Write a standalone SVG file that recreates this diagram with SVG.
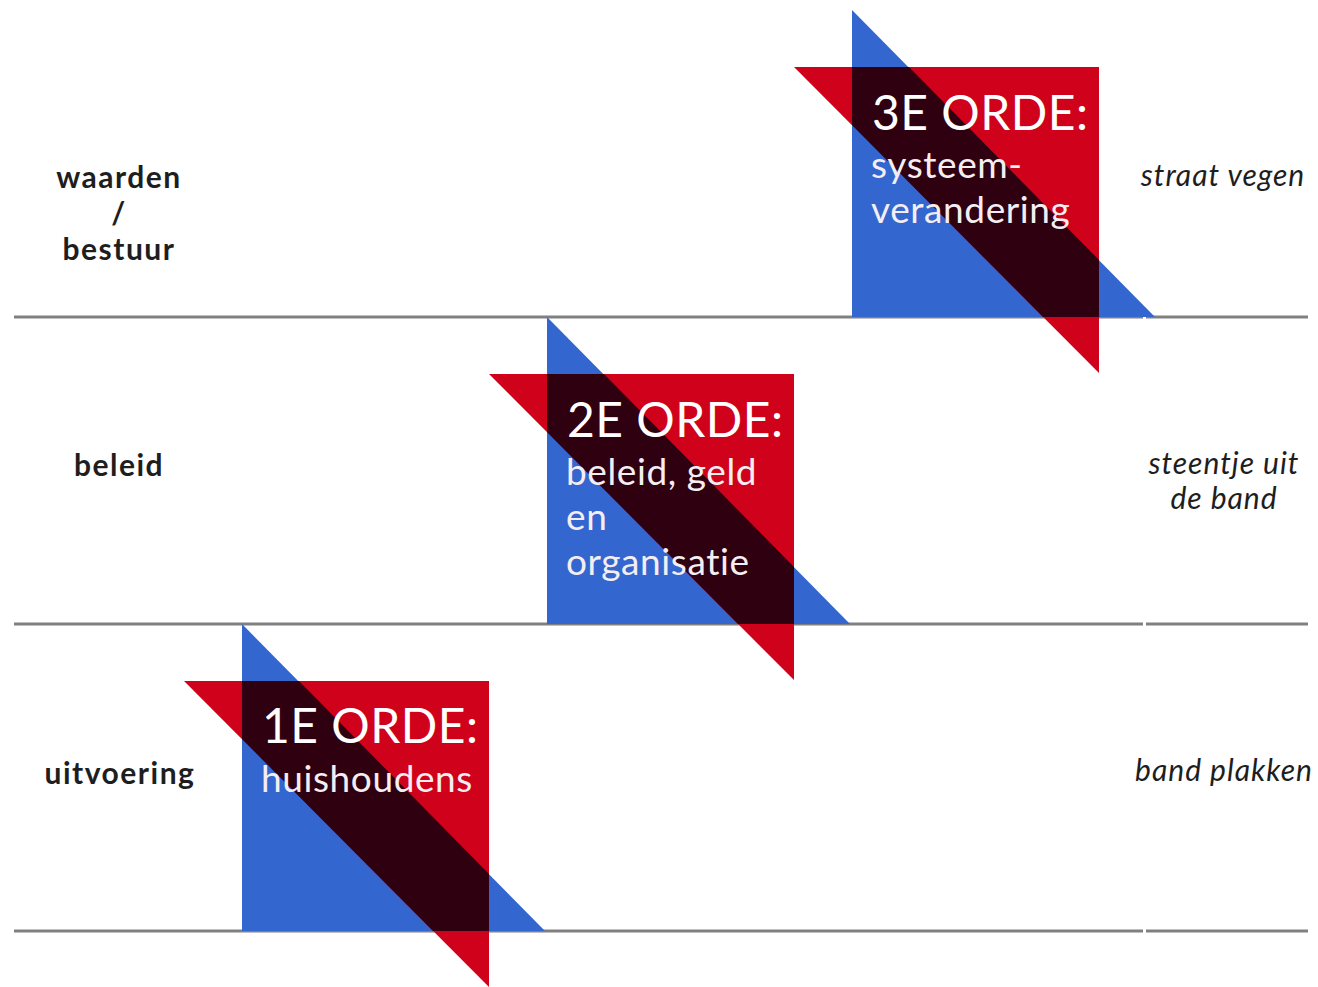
<svg xmlns="http://www.w3.org/2000/svg" width="1318" height="987" viewBox="0 0 1318 987">
<style>
.ln{stroke:#808080;stroke-width:3;fill:none}
.bl{fill:#3466CF}
.rd{fill:#D0011B}
.ov{fill:#2E0010}
.ttl{font-family:Lato,"Liberation Sans",sans-serif;font-size:48px;letter-spacing:0.5px;fill:#fff}
.sub{font-family:Lato,"Liberation Sans",sans-serif;font-size:37px;letter-spacing:0.6px;fill:#f4eef2}
.lft{font-family:Lato,"Liberation Sans",sans-serif;font-weight:bold;font-size:30px;letter-spacing:1.5px;fill:#1e1e1e;text-anchor:middle}
.rgt{font-family:Lato,"Liberation Sans",sans-serif;font-style:italic;font-size:30px;letter-spacing:1px;fill:#1e1e1e;text-anchor:middle}
</style>
<defs>
<g id="shape">
<polygon class="bl" points="0,-307 0,0 303,0"/>
<polygon class="rd" points="-58,-250 247,-250 247,56"/>
<polygon class="ov" points="0,-250 57,-250 247,-57 247,0 191,0 0,-192"/>
</g>
</defs>
<g id="lines">
<line class="ln" x1="14" y1="317" x2="1143" y2="317"/>
<line class="ln" x1="1146" y1="317" x2="1308" y2="317"/>
<line class="ln" x1="14" y1="624" x2="1143" y2="624"/>
<line class="ln" x1="1146" y1="624" x2="1308" y2="624"/>
<line class="ln" x1="14" y1="931" x2="1143" y2="931"/>
<line class="ln" x1="1146" y1="931" x2="1308" y2="931"/>
</g>
<g id="orde3" transform="translate(852,317)">
<use href="#shape"/>
<text class="ttl" x="20" y="-187">3E ORDE:</text>
<text class="sub" x="19" y="-139">systeem-</text>
<text class="sub" x="19" y="-94">verandering</text>
</g>
<g id="orde2" transform="translate(547,624)">
<use href="#shape"/>
<text class="ttl" x="20" y="-187">2E ORDE:</text>
<text class="sub" x="19" y="-139">beleid, geld</text>
<text class="sub" x="19" y="-94">en</text>
<text class="sub" x="19" y="-49">organisatie</text>
</g>
<g id="orde1" transform="translate(242,931)">
<use href="#shape"/>
<text class="ttl" x="20" y="-188">1E ORDE:</text>
<text class="sub" x="19" y="-139">huishoudens</text>
</g>
<g id="left-labels">
<text class="lft" x="119" y="188">waarden</text>
<text class="lft" x="119" y="224">/</text>
<text class="lft" x="119" y="260">bestuur</text>
<text class="lft" x="119" y="476">beleid</text>
<text class="lft" x="120" y="784">uitvoering</text>
</g>
<g id="right-labels">
<text class="rgt" x="1223" y="186">straat vegen</text>
<text class="rgt" x="1224" y="474">steentje uit</text>
<text class="rgt" x="1224" y="509">de band</text>
<text class="rgt" x="1224" y="781">band plakken</text>
</g>
</svg>
